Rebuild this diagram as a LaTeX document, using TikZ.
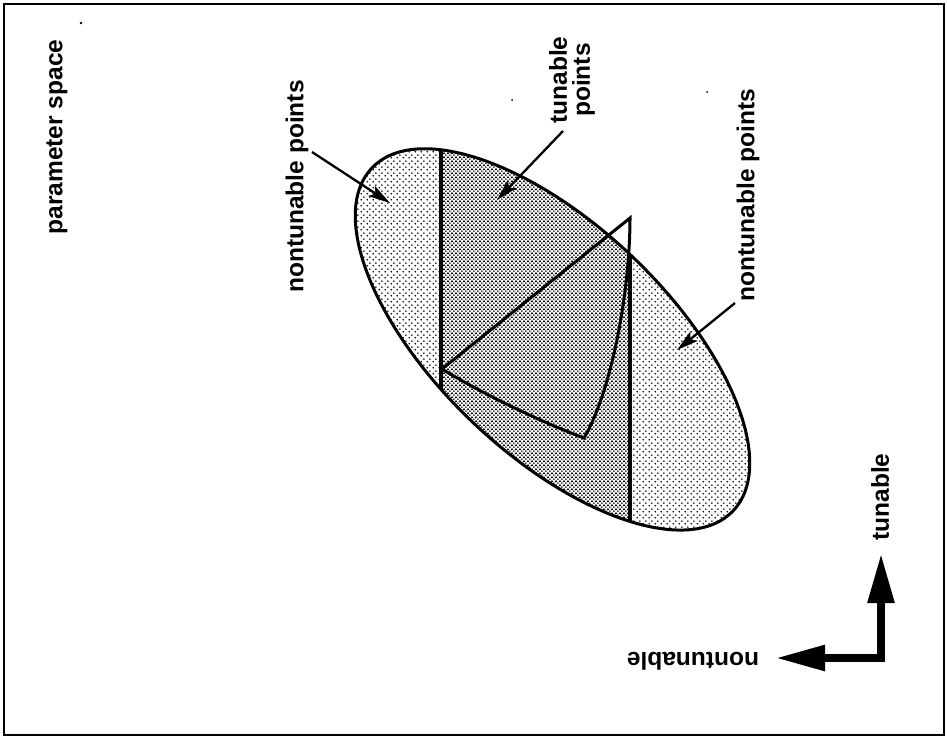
\documentclass[tikz,border=0pt]{standalone}
\usepackage{fontspec}
\setmainfont{Liberation Sans}
\usetikzlibrary{arrows.meta,patterns.meta}
\tikzdeclarepattern{name=lightdots, type=colored,
  bounding box={(0pt,0pt) and (6pt,6pt)}, tile size={(6pt,6pt)},
  code={\fill[black] (1.5pt,1.5pt) circle[radius=1.0pt];
        \fill[black] (4.5pt,4.5pt) circle[radius=1.0pt];}}
\tikzdeclarepattern{name=darkdots, type=colored,
  bounding box={(0pt,0pt) and (4.2pt,4.2pt)}, tile size={(4.2pt,4.2pt)},
  code={\fill[black] (1.05pt,1.05pt) circle[radius=1.15pt];
        \fill[black] (3.15pt,3.15pt) circle[radius=1.15pt];}}
\begin{document}
\begin{tikzpicture}[x=1pt,y=-1pt,
  lbl/.style={font=\bfseries\fontsize{24.5}{23}\selectfont, inner sep=0pt, align=center},
  ptr/.style={line width=2.3pt, -{Stealth[length=22pt,width=12pt,inset=5pt]}},
  axis/.style={line width=8.5pt, line join=miter,
    {Triangle[length=50pt,width=25pt]}-{Triangle[length=50pt,width=24pt]}},
  ell/.style={rotate around={-43.5:(552.5,339.4)}}]
\useasboundingbox (0,0) rectangle (947,740);
% frame
\draw[line width=2pt] (4,4) rectangle (944,735);
% specks
\fill (81,23) circle[radius=1.3];
\fill (512,100) circle[radius=1];
\fill (707,92) circle[radius=1];
% shaded regions
\begin{scope}
  \clip[ell] (552.5,339.4) ellipse[x radius=249, y radius=115];
  \fill[pattern=lightdots] (0,0) rectangle (441,740);
  \fill[pattern=darkdots] (441,0) rectangle (630,740);
  \fill[pattern=lightdots] (630,0) rectangle (947,740);
  \draw[line width=3.5pt] (441,0) -- (441,740);
  \draw[line width=3.5pt] (630,0) -- (630,740);
\end{scope}
\draw[ell, line width=3pt] (552.5,339.4) ellipse[x radius=249, y radius=115];
% tunable region (triangle)
\coordinate (L) at (442,369);
\coordinate (A) at (630,218);
\coordinate (B) at (584,438);
\draw[line width=3pt, line join=miter]
  (L) -- (A) .. controls (630,290) and (612,390) .. (B)
  .. controls (539,421) and (483,394) .. (L) -- cycle;
% labels
\node[lbl, rotate=90] (ps) at (57,137) {parameter space};
\node[lbl, rotate=90] (np1) at (297,186.5) {nontunable points};
\node[lbl, rotate=90] (tp) at (572,80) {tunable\\points};
\node[lbl, rotate=90] (np2) at (748,195) {nontunable points};
\node[lbl, rotate=90] (tu) at (880,497) {tunable};
\node[lbl, rotate=180] (nt) at (693,661) {nontunable};
% pointers
\coordinate (p1s) at (312,152); \coordinate (p1e) at (390,203);
\coordinate (p2s) at (563,131); \coordinate (p2e) at (497,200);
\coordinate (p3s) at (735,303); \coordinate (p3e) at (677,350);
\draw[ptr] (p1s) -- (p1e);
\draw[ptr] (p2s) -- (p2e);
\draw[ptr] (p3s) -- (p3e);
% axes
\coordinate (vt) at (881,553);
\coordinate (corner) at (881,658);
\coordinate (ht) at (775,658);
\draw[axis] (vt) -- (corner) -- (ht);
\end{tikzpicture}
\end{document}
